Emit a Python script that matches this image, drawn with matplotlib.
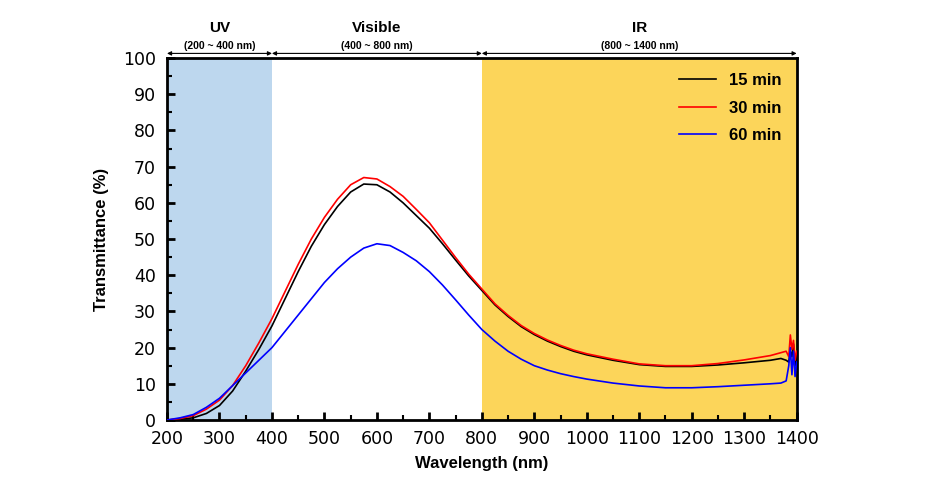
import numpy as np
import matplotlib
matplotlib.use("Agg")
import matplotlib.pyplot as plt
from matplotlib.ticker import MultipleLocator

plt.rcParams['font.family'] = ['Liberation Sans', 'DejaVu Sans']

#========== DATA ==========#

wavelength = [200, 225, 250, 275, 300, 325, 350, 375, 400, 425, 450, 475, 500, 525,
              550, 575, 600, 625, 650, 675, 700, 725, 750, 775, 800, 825, 850, 875,
              900, 925, 950, 975, 1000, 1050, 1100, 1150, 1200, 1250, 1300, 1350,
              1370, 1380, 1385, 1388, 1391, 1394, 1397, 1400]

t15 = [0.0, 0.2, 0.6, 1.8, 4.0, 8.0, 13.5, 19.5, 26.0, 33.5, 41.0, 48.0, 54.0, 59.0,
       63.0, 65.2, 65.0, 63.0, 60.0, 56.5, 53.0, 48.7, 44.2, 39.8, 35.8, 31.8, 28.6, 25.8,
       23.6, 21.8, 20.3, 19.0, 18.0, 16.5, 15.3, 14.8, 14.8, 15.2, 15.8, 16.5,
       17.0, 16.5, 16.0, 19.0, 17.5, 21.0, 15.0, 18.0]

t30 = [0.0, 0.4, 1.2, 3.0, 5.5, 9.5, 15.0, 21.3, 28.0, 35.5, 43.0, 50.0, 56.0, 61.0,
       65.0, 67.0, 66.6, 64.5, 61.8, 58.2, 54.5, 49.7, 44.9, 40.3, 36.2, 32.1, 28.9, 26.1,
       23.9, 22.1, 20.6, 19.3, 18.3, 16.8, 15.5, 15.0, 15.0, 15.6, 16.6, 17.8,
       18.6, 19.0, 17.5, 23.5, 19.5, 22.0, 16.5, 19.0]

t60 = [0.0, 0.6, 1.5, 3.5, 6.0, 9.5, 13.0, 16.5, 20.0, 24.5, 29.0, 33.5, 38.0, 41.8,
       45.0, 47.5, 48.7, 48.2, 46.3, 44.0, 41.0, 37.3, 33.2, 29.0, 25.0, 21.8, 19.0, 16.8,
       15.0, 13.8, 12.8, 12.0, 11.3, 10.2, 9.4, 8.9, 8.9, 9.2, 9.6, 10.0,
       10.2, 10.8, 15.0, 20.0, 12.5, 19.0, 12.0, 16.0]

series = [("15 min", t15, "black"), ("30 min", t30, "red"), ("60 min", t60, "blue")]

regions = [("UV", "(200 ~ 400 nm)", 200, 400, "#BDD7EE"),
           ("Visible", "(400 ~ 800 nm)", 400, 800, None),
           ("IR", "(800 ~ 1400 nm)", 800, 1400, "#FCD55A")]

#========== PLOT ==========#

fig = plt.figure(figsize=(9.3, 5.04), dpi=100)
ax = fig.add_axes([0.1796, 0.1667, 0.677, 0.718])

for name, sub, x0, x1, col in regions:
    if col:
        ax.axvspan(x0, x1, color=col, lw=0, zorder=0)
    ax.annotate("", xy=(x0, 101.3), xytext=(x1, 101.3), xycoords="data",
                arrowprops=dict(arrowstyle="<|-|>", color="black", lw=0.8,
                                mutation_scale=6, shrinkA=0, shrinkB=0),
                annotation_clip=False)
    ax.text((x0 + x1) / 2, 108.3, name, ha="center", va="center",
            fontsize=11, fontweight="bold")
    ax.text((x0 + x1) / 2, 103.3, sub, ha="center", va="center",
            fontsize=7.5, fontweight="bold")

for name, vals, col in series:
    ax.plot(wavelength, vals, color=col, lw=1.2, label=name, zorder=3)

ax.set_xlim(200, 1400)
ax.set_ylim(0, 100)
ax.xaxis.set_major_locator(MultipleLocator(100))
ax.xaxis.set_minor_locator(MultipleLocator(50))
ax.yaxis.set_major_locator(MultipleLocator(10))
ax.yaxis.set_minor_locator(MultipleLocator(5))
ax.tick_params(which="major", direction="in", length=6, width=2, labelsize=12.5)
ax.tick_params(axis="x", which="major", pad=7)
ax.tick_params(axis="y", which="major", pad=8)
ax.tick_params(which="minor", direction="in", length=3.5, width=1.5)
for lab in ax.get_xticklabels() + ax.get_yticklabels():
    lab.set_family(["DejaVu Sans"])
for sp in ax.spines.values():
    sp.set_linewidth(2)

ax.set_xlabel("Wavelength (nm)", fontsize=12, fontweight="bold", labelpad=6)
ax.set_ylabel("Transmittance (%)", fontsize=12, fontweight="bold", labelpad=10)

leg = ax.legend(loc="upper right", frameon=False, fontsize=12, handlelength=2.2,
                borderaxespad=0.5, labelspacing=0.75)
for t in leg.get_texts():
    t.set_fontweight("bold")

fig.savefig("out.png", dpi=100)
